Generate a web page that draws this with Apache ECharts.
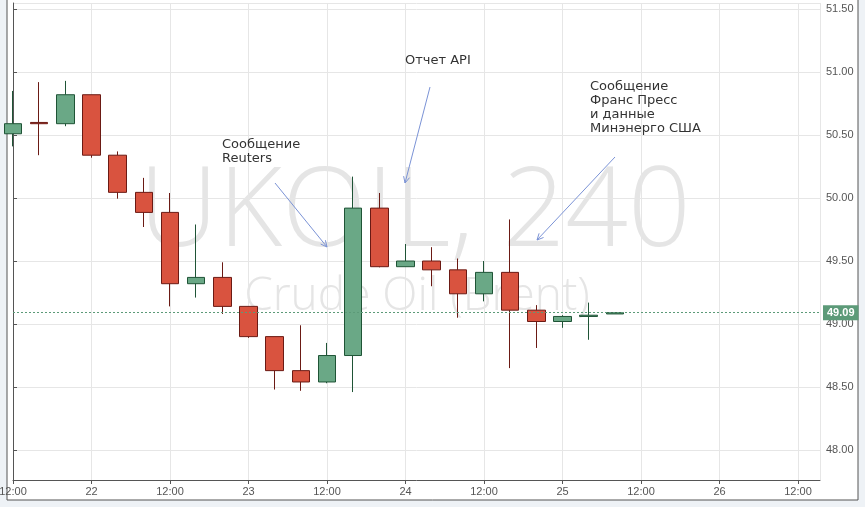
<!DOCTYPE html>
<html><head><meta charset="utf-8">
<script src="https://cdn.jsdelivr.net/npm/echarts@6/dist/echarts.min.js"></script>
<style>html,body{margin:0;padding:0;background:#eef2f6;}#c{width:865px;height:507px;}</style>
</head><body><div id="c"></div>
<script>
// candle index (4h bars from 21st 12:00), open, close, low, high
const idx   = [0,1,2,3,4,5,6,7,8,9,10,11,12,13,14,15,16,17,18,19,20,21,22,23];
const opens = [50.51,50.60,50.59,50.82,50.34,50.045,49.886,49.32,49.37,49.14,48.90,48.63,48.54,48.75,49.92,49.455,49.50,49.43,49.24,49.41,49.11,49.02,49.06,49.08];
const closes= [50.59,50.59,50.82,50.34,50.045,49.886,49.32,49.37,49.14,48.90,48.63,48.54,48.75,49.92,49.455,49.50,49.43,49.24,49.41,49.11,49.02,49.06,49.07,49.09];
const lows  = [50.41,50.34,50.57,50.32,49.995,49.77,49.14,49.21,49.08,48.89,48.48,48.47,48.53,48.46,49.45,49.455,49.30,49.05,49.18,48.65,48.81,48.97,48.875,49.08];
const highs = [50.85,50.92,50.93,50.82,50.37,50.16,50.04,49.79,49.49,49.14,48.90,48.99,48.85,50.17,50.04,49.635,49.61,49.52,49.50,49.83,49.15,49.07,49.17,49.095];
const lastPrice = 49.09;
const dayLabels = ['22','23','24','25','26'];

const data = idx.map((x,i)=>[x,opens[i],closes[i],lows[i],highs[i]]);
const chart = echarts.init(document.getElementById('c'));
const arrowColor = '#7b93d6';
function arrow(x1,y1,x2,y2){
  const a=Math.atan2(y2-y1,x2-x1), L=7, w=0.45;
  return [
    {type:'line',z:50,shape:{x1,y1,x2,y2},style:{stroke:arrowColor,lineWidth:1}},
    {type:'polyline',z:50,shape:{points:[[x2-L*Math.cos(a-w),y2-L*Math.sin(a-w)],[x2,y2],[x2-L*Math.cos(a+w),y2-L*Math.sin(a+w)]]},style:{stroke:arrowColor,lineWidth:1,fill:null}}
  ];
}
const txtStyle = {fill:'#333',font:'13px "DejaVu Sans", sans-serif',lineHeight:14};
chart.setOption({
  animation:false,
  backgroundColor:'#eef2f6',
  grid:{left:13,top:3,width:807,height:477,containLabel:false,outerBoundsMode:'none'},
  graphic:[
    {type:'rect',z:-10,silent:true,shape:{x:7,y:-2,width:851,height:502},style:{fill:'#fff',stroke:'#555',lineWidth:1}},
    {type:'text',z:-5,x:415,y:215,style:{text:'UKOIL, 240',fill:'#e5e5e5',font:'300 110px "Open Sans", sans-serif',align:'center',verticalAlign:'middle'}},
    {type:'text',z:-5,x:417,y:297,style:{text:'Crude Oil (Brent)',fill:'#e5e5e5',font:'300 46px "Open Sans", sans-serif',align:'center',verticalAlign:'middle'}},
    {type:'text',z:50,x:222,y:138,style:Object.assign({text:'Сообщение\nReuters'},txtStyle)},
    {type:'text',z:50,x:405,y:54,style:Object.assign({text:'Отчет API'},txtStyle)},
    {type:'text',z:50,x:590,y:80,style:Object.assign({text:'Сообщение\nФранс Пресс\nи данные\nМинэнерго США'},txtStyle)},
    ...arrow(275,183,327,247),
    ...arrow(430,87,405,183),
    ...arrow(615,157,537,240)
  ],
  xAxis:{type:'value',min:0,max:30.84,interval:3,
    axisLine:{lineStyle:{color:'#555'}},axisTick:{show:true,length:4,lineStyle:{color:'#555'}},
    splitLine:{show:true,lineStyle:{color:'#e6e6e6'}},
    axisLabel:{color:'#555',fontSize:11,fontFamily:'Arial, sans-serif',margin:6,showMaxLabel:false,
      formatter:v=>{const k=Math.round(v/3); return k%2===0?'12:00':dayLabels[(k-1)/2];}}},
  yAxis:{type:'value',position:'right',min:47.762,max:51.548,splitNumber:8,
    axisLine:{show:true,lineStyle:{color:'#555'}},axisTick:{show:true,length:4,lineStyle:{color:'#555'}},
    splitLine:{lineStyle:{color:'#e6e6e6'}},
    axisLabel:{color:'#555',fontSize:11,fontFamily:'Arial, sans-serif',margin:6,
      showMinLabel:false,showMaxLabel:false,formatter:v=>v.toFixed(2)}},
  series:[{type:'candlestick',data:data,encode:{x:0,y:[1,2,3,4]},barWidth:18,
    itemStyle:{color:'#6aa886',color0:'#d9533f',borderColor:'#1f5436',borderColor0:'#6b1a14',borderWidth:1},
    markLine:{symbol:'none',silent:true,
      lineStyle:{color:'#5c9a78',type:[2,2],width:1},
      label:{position:'end',formatter:lastPrice.toFixed(2),color:'#fff',backgroundColor:'#5c9a78',padding:[2,4],fontSize:11,fontWeight:'bold',distance:3},
      data:[{yAxis:lastPrice}]}
  }]
});
</script></body></html>
